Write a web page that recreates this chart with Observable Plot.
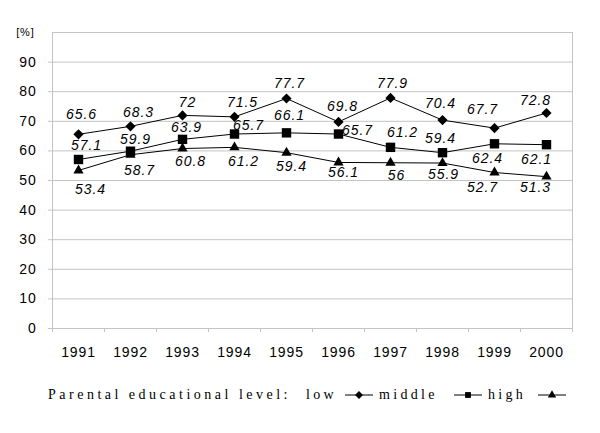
<!DOCTYPE html>
<html><head><meta charset="utf-8">
<script src="https://cdn.jsdelivr.net/npm/d3@7"></script>
<script src="https://cdn.jsdelivr.net/npm/@observablehq/plot@0.6"></script>
<style>
body{margin:0;background:#fff;width:600px;height:433px;overflow:hidden;position:relative;}
#chart svg{display:block;}
#chart g[aria-label="text"] text{letter-spacing:1px;}
#chart g[aria-label="y-axis tick label"] text{letter-spacing:0.8px;}
#chart g[aria-label="x-axis tick label"] text{letter-spacing:0.9px;}
#legend{position:absolute;left:0;top:386px;width:600px;height:18px;
  font-family:"Liberation Serif","Times New Roman",serif;font-size:14px;letter-spacing:3.3px;color:#000;white-space:nowrap;}
#legend span{position:absolute;top:0;line-height:18px;}
#legend span.title{letter-spacing:3.5px;}
#legend svg{position:absolute;top:3px;display:block;}
</style></head><body>
<div id="chart"></div>
<div id="legend"></div>
<script>
// ---- data ----
const years = [1991, 1992, 1993, 1994, 1995, 1996, 1997, 1998, 1999, 2000];
const lowValues = [65.6, 68.3, 72, 71.5, 77.7, 69.8, 77.9, 70.4, 67.7, 72.8];
const middleValues = [57.1, 59.9, 63.9, 65.7, 66.1, 65.7, 61.2, 59.4, 62.4, 62.1];
const highValues = [53.4, 58.7, 60.8, 61.2, 59.4, 56.1, 56, 55.9, 52.7, 51.3];
const seriesNames = ["low", "middle", "high"];
const yTicks = [0, 10, 20, 30, 40, 50, 60, 70, 80, 90];
const yUnitLabel = "[%]";
const legendTitle = "Parental educational level:";

// ---- layout (label offsets in px, per series, per year) ----
const labelOffsets = {
  low:    [[3,-20],[8,-14],[5,-13],[8,-14],[3,-15],[4,-15],[2,-14],[-2,-17],[-12,-19],[-11,-12]],
  middle: [[8,-14],[5,-12],[4,-12],[14,-9],[3,-17],[19,-4],[12,-15],[-2,-14],[-7,15],[-10,15]],
  high:   [[12,19],[9,16],[8,13],[9,14],[5,14],[5,10],[6,13],[1,11],[-12,15],[-11,11]]
};
const symbols = {low: "diamond2", middle: "square", high: "triangle"};
const radii = {low: 4.6, middle: 5.3, high: 3.8};

const valuesBySeries = {low: lowValues, middle: middleValues, high: highValues};
const rows = seriesNames.flatMap(s => years.map((year, i) => ({series: s, year, value: valuesBySeries[s][i], i})));

const bandEdges = years.map(y => y - 0.5).concat([years[years.length - 1] + 0.5]);
const gridColor = "#c4c4c4";
const numFont = "Liberation Sans, Arial, sans-serif";

const labelMarks = rows.map(r => Plot.text([r], {
  x: "year", y: "value", text: d => String(d.value),
  dx: labelOffsets[r.series][r.i][0], dy: labelOffsets[r.series][r.i][1],
  fontStyle: "italic", fontSize: 14, fill: "black"
}));

const chart = Plot.plot({
  width: 600, height: 370,
  marginTop: 32, marginBottom: 42, marginLeft: 52, marginRight: 28,
  style: {fontFamily: numFont, fontSize: "14px", background: "white", color: "black"},
  x: {type: "linear", domain: [bandEdges[0], bandEdges[bandEdges.length - 1]]},
  y: {domain: [0, 100]},
  marks: [
    Plot.gridY([...yTicks.slice(1), 100], {stroke: gridColor, strokeOpacity: 1}),
    Plot.frame({stroke: gridColor}),
    Plot.axisY(yTicks, {tickSize: 4, tickPadding: 12, stroke: gridColor, fill: "black", fontSize: 14, label: null}),
    Plot.axisY([100], {tickSize: 0, tickPadding: 18, tickFormat: () => yUnitLabel, fill: "black", fontSize: 11, label: null}),
    Plot.axisX(bandEdges, {tickSize: 4, tickFormat: () => "", stroke: gridColor, label: null}),
    Plot.axisX(years, {tickSize: 0, tickPadding: 19, tickFormat: d => String(d), fill: "black", fontSize: 14, label: null}),
    Plot.line(rows, {x: "year", y: "value", z: "series", stroke: "black", strokeWidth: 1}),
    ...seriesNames.map(s => Plot.dot(rows.filter(r => r.series === s), {
      x: "year", y: "value", symbol: () => symbols[s], r: radii[s], fill: "black", stroke: "none"
    })),
    ...labelMarks
  ]
});
document.getElementById("chart").appendChild(chart);

// ---- legend (HTML below the SVG) ----
const legend = d3.select("#legend");
const legendLayout = {title: 48, labels: [306, 379, 488], swatches: [345, 454, 538]};
legend.append("span").attr("class", "title").text(legendTitle).style("left", legendLayout.title + "px");
const symbolGen = {low: d3.symbolDiamond2, middle: d3.symbolSquare, high: d3.symbolTriangle};
const legendSizes = {low: 40, middle: 34, high: 30};
seriesNames.forEach((s, k) => {
  legend.append("span").text(s).style("left", legendLayout.labels[k] + "px");
  const sw = legend.append("svg").attr("width", 28).attr("height", 12)
    .style("left", legendLayout.swatches[k] + "px");
  sw.append("line").attr("x1", 0).attr("x2", 28).attr("y1", 6).attr("y2", 6).attr("stroke", "black");
  sw.append("path").attr("transform", "translate(14,6)")
    .attr("d", d3.symbol(symbolGen[s], legendSizes[s])()).attr("fill", "black");
});
</script>
</body></html>
